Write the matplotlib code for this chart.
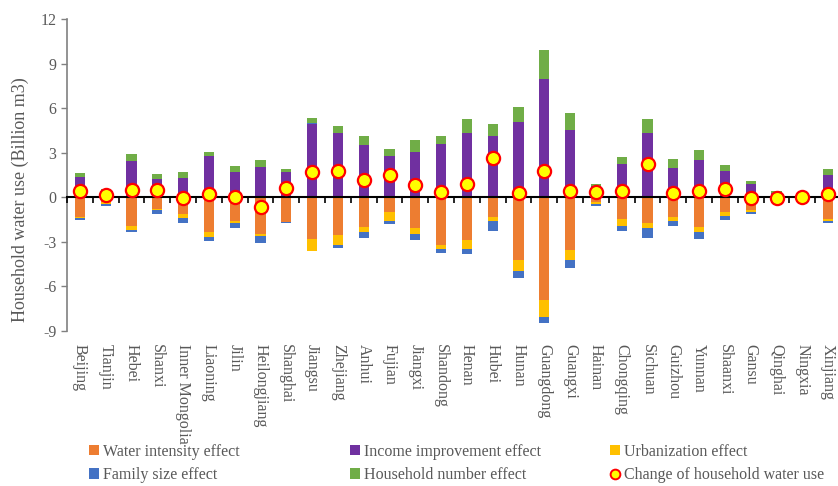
import numpy as np
import matplotlib
matplotlib.use('Agg')
import matplotlib.pyplot as plt
from matplotlib.patches import Patch
from matplotlib.lines import Line2D

provinces = ['Beijing', 'Tianjin', 'Hebei', 'Shanxi', 'Inner Mongolia', 'Liaoning', 'Jilin',
             'Heilongjiang', 'Shanghai', 'Jiangsu', 'Zhejiang', 'Anhui', 'Fujian', 'Jiangxi',
             'Shandong', 'Henan', 'Hubei', 'Hunan', 'Guangdong', 'Guangxi', 'Hainan',
             'Chongqing', 'Sichuan', 'Guizhou', 'Yunnan', 'Shaanxi', 'Gansu', 'Qinghai',
             'Ningxia', 'Xinjiang']

water_intensity = [-1.32, -0.31, -1.90, -0.76, -1.10, -2.35, -1.61, -2.44, -1.66, -2.82,
                   -2.55, -2.01, -1.01, -2.08, -3.22, -2.89, -1.36, -4.23, -6.91, -3.56,
                   -0.34, -1.48, -1.74, -1.36, -1.97, -1.01, -0.87, -0.25, -0.08, -1.48]
income = [1.34, 0.45, 2.44, 1.21, 1.30, 2.77, 1.70, 2.01, 1.72, 4.94,
          4.36, 3.49, 2.77, 3.04, 3.56, 4.32, 4.12, 5.06, 7.96, 4.54,
          0.75, 2.24, 4.36, 1.97, 2.48, 1.74, 0.87, 0.30, 0.06, 1.48]
urbanization = [-0.07, -0.16, -0.31, -0.11, -0.31, -0.34, -0.11, -0.18, -0.02, -0.78,
                -0.67, -0.36, -0.60, -0.40, -0.25, -0.56, -0.25, -0.72, -1.12, -0.65,
                -0.11, -0.43, -0.34, -0.25, -0.38, -0.25, -0.09, -0.05, -0.02, -0.13]
family_size = [-0.11, -0.11, -0.16, -0.25, -0.31, -0.25, -0.36, -0.49, -0.07, 0.06,
               -0.18, -0.38, -0.18, -0.38, -0.27, -0.36, -0.69, -0.51, -0.40, -0.54,
               -0.13, -0.34, -0.63, -0.31, -0.43, -0.27, -0.16, -0.10, -0.03, -0.13]
household_number = [0.29, 0.08, 0.49, 0.36, 0.40, 0.31, 0.38, 0.47, 0.16, 0.36,
                     0.47, 0.65, 0.51, 0.83, 0.54, 0.92, 0.83, 1.01, 1.95, 1.14,
                     0.16, 0.49, 0.92, 0.63, 0.69, 0.40, 0.25, 0.12, 0.03, 0.45]
total_change = [0.45, 0.15, 0.49, 0.49, -0.04, 0.20, 0.04, -0.63, 0.65, 1.72,
                1.74, 1.16, 1.48, 0.85, 0.36, 0.87, 2.66, 0.27, 1.77, 0.40,
                0.36, 0.43, 2.26, 0.29, 0.40, 0.56, -0.07, -0.02, 0.04, 0.20]

effects = [
    ('Water intensity effect', water_intensity, '#ED7D31'),
    ('Income improvement effect', income, '#7030A0'),
    ('Urbanization effect', urbanization, '#FFC000'),
    ('Family size effect', family_size, '#4472C4'),
    ('Household number effect', household_number, '#70AD47'),
]

plt.rcParams['font.family'] = ['Liberation Serif', 'DejaVu Serif']
plt.rcParams['axes.unicode_minus'] = False
grey = '#595959'

fig = plt.figure(figsize=(8.38, 4.86), dpi=100)
ax = fig.add_axes([67 / 838, 1 - 331 / 486, 774 / 838, 312 / 486])

x = np.arange(len(provinces))
pos_bottom = np.zeros(len(x))
neg_bottom = np.zeros(len(x))
for name, vals, col in effects:
    v = np.array(vals)
    bottom = np.where(v >= 0, pos_bottom, neg_bottom)
    ax.bar(x, v, 0.4, bottom=bottom, color=col, edgecolor='none', zorder=2)
    pos_bottom += np.where(v >= 0, v, 0)
    neg_bottom += np.where(v < 0, v, 0)

ax.plot(x, total_change, 'o', ms=9.5, mfc='#FFFF00', mec='#FF0000', mew=1.6,
        linestyle='none', zorder=4)

ax.set_xlim(-0.5, len(x) - 0.5)
ax.set_ylim(-9, 12)
ax.set_yticks(np.arange(-9, 13, 3))
ax.tick_params(axis='y', colors=grey, labelsize=11.5, length=4, width=1, direction='out')
ax.tick_params(axis='y', color='#808080')
ax.set_xticks(x)
ax.set_xticklabels(provinces, rotation=270, ha='center', va='top', color=grey, fontsize=11.5)
ax.tick_params(axis='x', length=0, pad=9)

for s in ['top', 'right', 'bottom']:
    ax.spines[s].set_visible(False)
ax.spines['left'].set_color('#808080')
ax.spines['left'].set_linewidth(1.2)

# zero line with category separators
zero = ax.secondary_xaxis(9 / 21)
zero.spines['bottom'].set_color('black')
zero.spines['bottom'].set_linewidth(1.5)
zero.set_xticks(np.arange(-0.5, len(x), 1.0))
zero.set_xticklabels([])
zero.tick_params(length=4, width=1.2, color='black', direction='out')
zero.set_zorder(3)

fig.text(20.5 / 838, 1 - 200 / 486, 'Household water use (Billion m3)', rotation=90,
         ha='center', va='center', color=grey, fontsize=13)

# legend, three fixed columns
sq = dict(handlelength=0.6, handleheight=0.6, handletextpad=0.3, frameon=False,
          fontsize=11.5, labelspacing=0.45, borderpad=0, borderaxespad=0, loc='upper left')
cols = [
    (89, [effects[0], effects[3]]),
    (350, [effects[1], effects[4]]),
]
for px, items in cols:
    hs = [Patch(facecolor=c, edgecolor='none') for _, _, c in items]
    leg = fig.legend(hs, [n for n, _, _ in items], bbox_to_anchor=(px / 838, 1 - 444 / 486), **sq)
    for t in leg.get_texts():
        t.set_color(grey)
hs = [Patch(facecolor=effects[2][2], edgecolor='none'),
      Line2D([], [], marker='o', ms=7, mfc='#FFFF00', mec='#FF0000', mew=1.4, linestyle='none')]
leg = fig.legend(hs, [effects[2][0], 'Change of household water use'],
                 bbox_to_anchor=(610 / 838, 1 - 444 / 486), **sq)
for t in leg.get_texts():
    t.set_color(grey)

fig.savefig('out.png', dpi=100)
